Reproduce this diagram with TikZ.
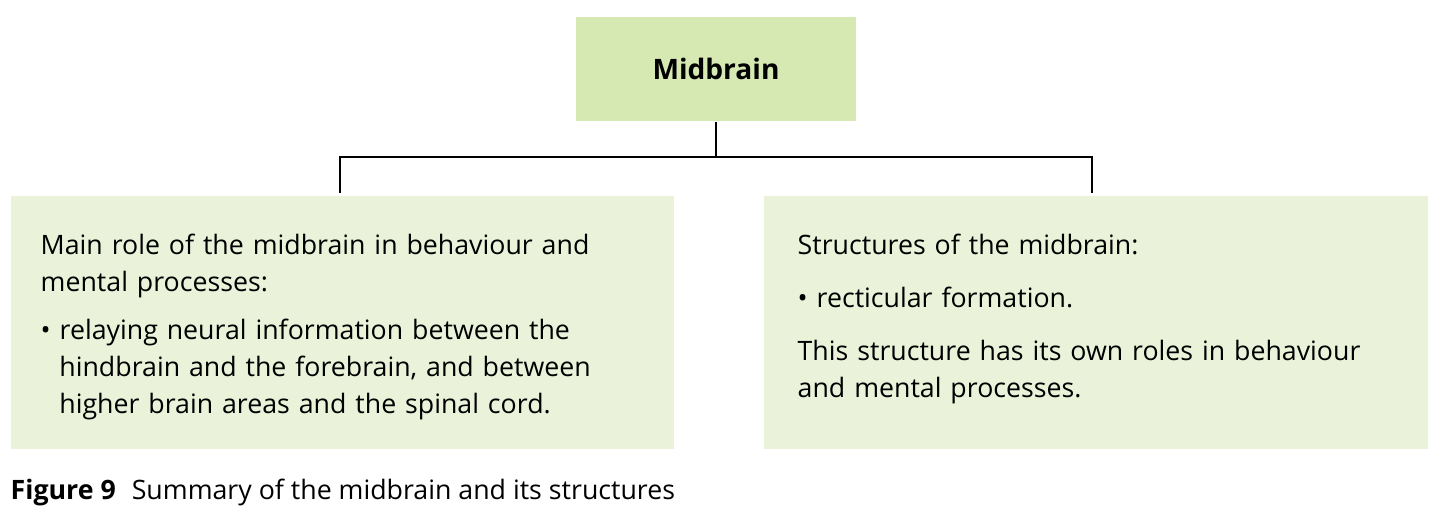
\documentclass[tikz,border=0pt]{standalone}
\usepackage{fontspec}
\setmainfont{Open Sans}
\usetikzlibrary{positioning}
\definecolor{topgreen}{RGB}{214,233,178}
\definecolor{boxgreen}{RGB}{234,243,218}
\tikzset{
  box/.style={fill=boxgreen, draw=none, anchor=north west, inner sep=0pt},
  txt/.style={anchor=north west, align=left, text width=#1, inner sep=0pt,
    font=\fontsize{7.6}{10.6}\selectfont},
  link/.style={line width=0.8pt}
}
\begin{document}
\begin{tikzpicture}[x=0.01cm,y=-0.01cm]
  \useasboundingbox (0,0) rectangle (1440,512);

  \node[fill=topgreen, minimum width=2.8cm, minimum height=1.04cm,
        font=\fontsize{8}{10}\bfseries] (mid) at (716,69) {Midbrain};

  \node[box, minimum width=6.63cm, minimum height=2.53cm] (role) at (10,195) {};
  \node[box, minimum width=6.64cm, minimum height=2.53cm] (struct) at (763,195) {};

  \node[txt=6.0cm] (roletxt) at (40,233) {Main role of the midbrain in behaviour and\\mental processes:\\[3pt]
    \textbullet\ relaying neural information between the\\
    \hspace*{0.7em}hindbrain and the forebrain, and between\\
    \hspace*{0.7em}higher brain areas and the spinal cord.};
  \node[txt=6.0cm] (structtxt) at (797,233) {Structures of the midbrain:\\[4.5pt]
    \textbullet\ recticular formation.\\[4.5pt]
    This structure has its own roles in behaviour\\and mental processes.};

  \coordinate (split) at (716,157);
  \draw[link] (mid.south) -- (split);
  \draw[link] (340,193) |- (split) -| (1092,193);

  \node[anchor=west, inner sep=0pt, font=\fontsize{7.6}{9}\selectfont] (cap) at (10,492)
    {\textbf{Figure 9}\hspace{0.6em}Summary of the midbrain and its structures};
\end{tikzpicture}
\end{document}
